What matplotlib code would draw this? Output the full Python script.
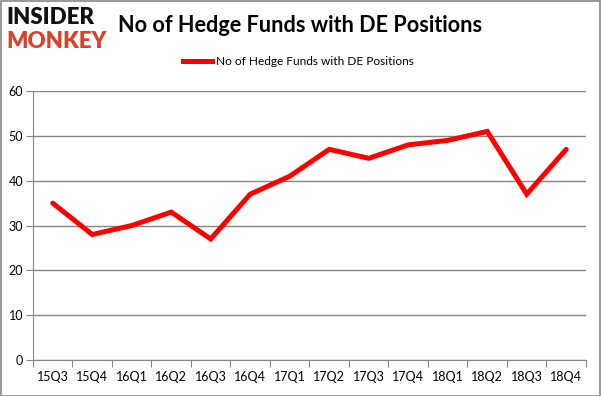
import matplotlib
matplotlib.use("Agg")
import matplotlib.pyplot as plt
from matplotlib.lines import Line2D
from matplotlib.patches import Rectangle

quarters = ["15Q3", "15Q4", "16Q1", "16Q2", "16Q3", "16Q4", "17Q1", "17Q2",
            "17Q3", "17Q4", "18Q1", "18Q2", "18Q3", "18Q4"]
funds = [35, 28, 30, 33, 27, 37, 41, 47, 45, 48, 49, 51, 37, 47]
yticks = [0, 10, 20, 30, 40, 50, 60]
title = "No of Hedge Funds with DE Positions"

plt.rcParams['font.family'] = ['Lato', 'DejaVu Sans']

fig = plt.figure(figsize=(6.01, 3.96), dpi=100)
ax = fig.add_axes([0.0549, 0.0909, 0.9201, 0.6791])

x = list(range(len(quarters)))
ax.plot(x, funds, color="#ff0000", lw=3.6, solid_capstyle="round", solid_joinstyle="miter", zorder=3)

ax.set_xlim(-0.5, len(quarters) - 0.5)
ax.set_ylim(0, 60)
ax.set_yticks(yticks)
ax.set_yticklabels([str(v) for v in yticks], fontsize=9)
ax.yaxis.grid(True, color="#868686", lw=1)
ax.set_axisbelow(True)
ax.tick_params(axis="y", length=5, color="#868686", pad=2)

ax.set_xticks([i - 0.5 for i in range(len(quarters) + 1)])
ax.set_xticklabels([])
ax.set_xticks(x, minor=True)
ax.set_xticklabels(quarters, minor=True, fontsize=9)
ax.tick_params(axis="x", which="major", length=5, color="#868686")
ax.tick_params(axis="x", which="minor", length=0, pad=8)

for s in ["top", "right"]:
    ax.spines[s].set_visible(False)
for s in ["left", "bottom"]:
    ax.spines[s].set_color("#868686")

# Title and legend
fig.text(0.5, 0.935, title, fontsize=15.6, fontweight="bold", ha="center", va="center")
leg_y = 0.845
fig.add_artist(Line2D([0.305, 0.352], [leg_y, leg_y], color="#ff0000", lw=3.6,
                      transform=fig.transFigure))
fig.text(0.359, leg_y, title, fontsize=8.6, ha="left", va="center")

# Logo
fig.text(0.010, 0.955, "INSIDER", fontsize=16, fontweight="heavy", color="#111111",
         ha="left", va="center")
fig.text(0.010, 0.895, "MONKEY", fontsize=16, fontweight="heavy", color="#d9412b",
         ha="left", va="center")

# Figure border
fig.add_artist(Rectangle((0.001, 0.001), 0.997, 0.997, transform=fig.transFigure,
                         fill=False, edgecolor="#888888", lw=1.2))

fig.savefig("out.png", dpi=100)
